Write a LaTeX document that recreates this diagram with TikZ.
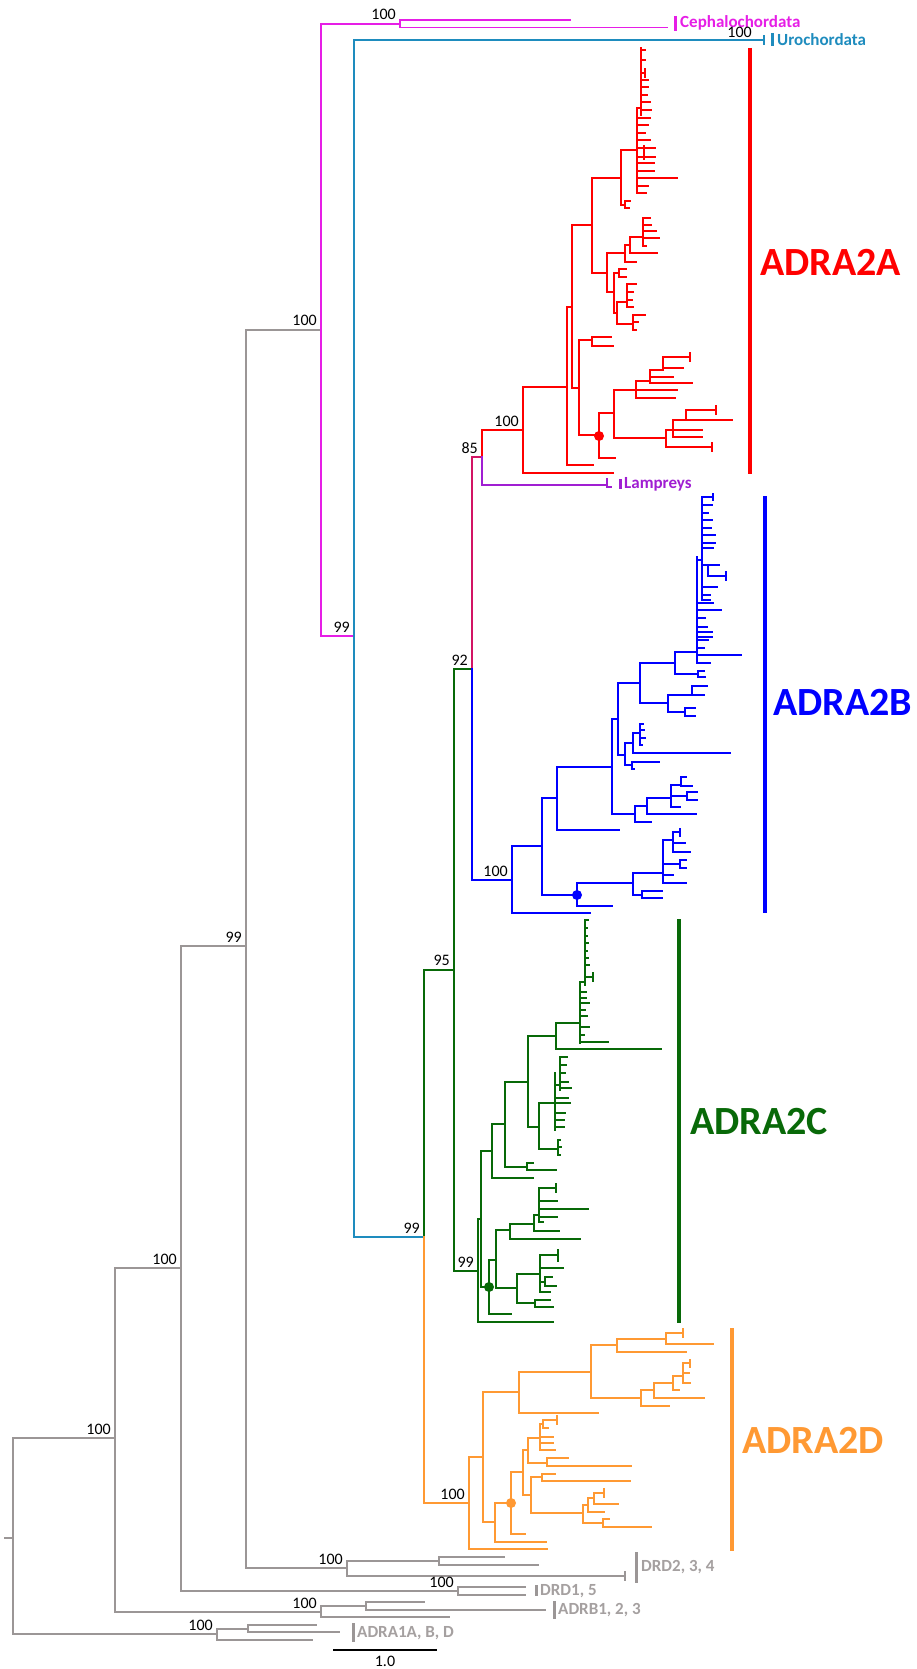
\documentclass[tikz,border=0pt]{standalone}
\usepackage{fontspec}
\setmainfont{Carlito}
\definecolor{cA}{RGB}{255,0,0}
\definecolor{cB}{RGB}{0,0,255}
\definecolor{cC}{RGB}{8,105,8}
\definecolor{cD}{RGB}{255,153,51}
\definecolor{cM}{RGB}{230,30,230}
\definecolor{cU}{RGB}{30,140,190}
\definecolor{cL}{RGB}{160,30,210}
\definecolor{cK}{RGB}{210,20,100}
\definecolor{cG}{RGB}{155,150,150}
\definecolor{cGt}{RGB}{165,160,160}
% one internal node: vertical at x=#1 from #2 to #3, branches y/xend in #4
\newcommand\clade[4]{\draw (#1,#2) -- (#1,#3) \foreach \yy/\xx in {#4}{ (#1,\yy) -- (\xx,\yy)};}
\newcommand\tickmark[3]{\draw (#1,#2) -- (#1,#3);}
\tikzset{
  br/.style={line width=1.6pt, line cap=rect},
  lab/.style={font=\fontsize{16}{18}\selectfont, inner sep=0pt, anchor=base east, text=black},
  tag/.style={font=\fontsize{17}{19}\selectfont\bfseries, inner sep=0pt, anchor=west},
  big/.style={font=\fontsize{40}{44}\selectfont\bfseries, inner sep=0pt, anchor=west},
  bar/.style={line width=3pt},
  bigbar/.style={line width=3.5pt}
}
\begin{document}
\begin{tikzpicture}[x=1pt,y=-1pt]
\fill[white] (0,0) rectangle (916,1669);
\useasboundingbox (0,0) rectangle (916,1669);

% ---------- outgroups and backbone ----------
\begin{scope}[br,cG]
\draw (5,1538) -- (13,1538);
\clade{13}{1438}{1634}{1438/115, 1634/217}
\clade{115}{1268}{1612}{1268/181, 1612/321}
\clade{181}{946}{1591}{946/246, 1591/458}
\clade{246}{330}{1568}{330/321, 1568/347}
\clade{347}{1561}{1576}{1561/439, 1576/625}
\tickmark{625}{1572}{1580}
\clade{439}{1557}{1565}{1557/504, 1565/538}
\clade{458}{1587}{1595}{1587/525, 1595/525}
\clade{321}{1606}{1617}{1606/366, 1617/449}
\clade{366}{1602}{1610}{1602/424, 1610/545}
\clade{217}{1629}{1640}{1629/248, 1640/312}
\clade{248}{1625}{1632}{1625/316, 1632/339}
\end{scope}
\begin{scope}[bar,cG]
\draw (636,1552) -- (636,1583);
\draw (536,1585) -- (536,1596);
\draw (554,1601) -- (554,1619);
\draw (353,1623) -- (353,1642);
\end{scope}
\node[tag,text=cGt] (drdA) at (641,1567) {DRD2, 3, 4};
\node[tag,text=cGt] (drdB) at (540,1591) {DRD1, 5};
\node[tag,text=cGt] (adrb) at (558,1610) {ADRB1, 2, 3};
\node[tag,text=cGt] (adra1) at (357,1633) {ADRA1A, B, D};

% scale bar
\draw[line width=1.6pt] (333,1650) -- (437,1650);
\node[font=\fontsize{16}{18}\selectfont, inner sep=0pt] (scl) at (385,1661) {1.0};

% ---------- chordate backbone ----------
\begin{scope}[br]
\draw[cM] (321,24) -- (321,636);
\draw[cM] (321,24) -- (400,24);
\begin{scope}[cM]
\clade{400}{20}{27.5}{20/570, 27.5/667}
\end{scope}
\draw[cM] (321,636) -- (354,636);
\draw[cU] (354,40) -- (354,1237);
\draw[cU] (354,40) -- (764,40);
\draw[cU] (764,36) -- (764,44);
\draw[cU] (354,1237) -- (424,1237);
\draw[cC] (424,970) -- (424,1237);
\draw[cD] (424,1237) -- (424,1503);
\draw[cC] (424,970) -- (454,970);
\draw[cC] (454,669) -- (454,1271);
\draw[cC] (454,669) -- (472,669);
\draw[cK] (472,457) -- (472,669);
\draw[cB] (472,669) -- (472,880);
\draw[cK] (472,457) -- (482,457);
\draw[cA] (482,430) -- (482,457);
\draw[cL] (482,457) -- (482,485);
\draw[cL] (482,485) -- (607,485);
\draw[cL] (607,479) -- (607,487) -- (611,487);
\draw[cA] (482,430) -- (523,430);
\draw[cB] (472,880) -- (512,880);
\draw[cC] (454,1271) -- (478,1271);
\draw[cD] (424,1503) -- (469,1503);
\end{scope}
\draw[bar,cM] (675,16) -- (675,31);
\node[tag,text=cM] (ceph) at (680,23) {Cephalochordata};
\draw[bar,cU] (772,33) -- (772,46);
\node[tag,text=cU] (uro) at (777,40) {Urochordata};
\draw[bar,cL] (620,479) -- (620,489);
\node[tag,text=cL] (lam) at (624,484) {Lampreys};

% ---------- ADRA2A ----------
\begin{scope}[br,cA]
\clade{523}{387}{473}{387/567, 473/613}
\clade{567}{307}{465}{307/572, 465/593}
\clade{572}{225}{388}{225/592, 388/579}
\clade{579}{340}{435}{340/592, 435/599}
\clade{592}{337}{346}{337/611, 346/613}
\clade{599}{413}{458}{413/614, 458/615}
\clade{614}{390}{438}{390/636, 438/666}
\clade{636}{381}{398}{381/650, 390/677, 398/675}
\clade{650}{370}{383}{370/663, 377/673, 383/692}
\clade{663}{357}{368}{357/690, 368/683}
\tickmark{690}{353}{361}
\clade{666}{430}{447}{430/673, 447/712}
\tickmark{712}{443}{451}
\clade{673}{420}{437}{420/686, 430/702, 437/702}
\clade{686}{410}{420}{410/716, 420/732}
\tickmark{716}{406}{414}
\clade{592}{178}{273}{178/621, 273/607}
\clade{621}{150}{205}{150/637, 205/625}
\clade{625}{201}{208}{201/630, 208/629}
\clade{607}{253}{292}{253/625, 292/614}
\clade{625}{245}{262}{245/630, 262/636}
\clade{630}{237}{253}{237/643, 253/657}
\clade{643}{218}{246}{218/650, 225/651, 231/656, 238/659, 246/646}
\clade{614}{273}{313}{273/619, 313/617}
\clade{619}{269}{277}{269/626, 277/626}
\clade{617}{302}{324}{302/627, 324/633}
\clade{627}{284}{307}{284/636, 292/633, 300/632, 307/633}
\clade{633}{315}{330}{315/645, 322/638, 330/636}
\clade{637}{108}{193}{108/641, 118/650, 125/648, 133/645, 140/650, 148/644, 157/644, 163/654, 171/654, 178/677, 186/648, 193/646}
\clade{641}{48}{115}{50/645, 60/645, 73/645, 80/648, 87/648, 95/647, 102/650, 110/651}
\clade{644}{146}{159}{148/655, 157/655}
\tickmark{645}{69}{77}
\fill (599,436) circle (5);
\end{scope}
\draw[bigbar,cA] (750,48) -- (750,474);
\node[big,text=cA] (lA) at (760,262) {ADRA2A};

% ---------- ADRA2B ----------
\begin{scope}[br,cB]
\clade{512}{846}{913}{846/542, 913/590}
\clade{542}{798}{895}{798/557, 895/577}
\clade{577}{883}{906}{883/633, 906/612}
\clade{633}{873}{895}{873/663, 895/642}
\clade{642}{891}{898}{891/662, 898/662}
\clade{663}{840}{883}{840/673, 864/680, 875/673, 883/686}
\clade{673}{832}{852}{832/680, 843/685, 852/690}
\tickmark{680}{829}{836}
\clade{680}{860}{868}{860/686, 868/686}
\clade{557}{767}{830}{767/612, 830/619}
\clade{612}{719}{814}{719/618, 814/635}
\clade{635}{806}{822}{806/647, 822/651}
\clade{647}{798}{814}{798/671, 814/696}
\clade{671}{785}{807}{785/681, 796/687, 807/680}
\clade{681}{777}{786}{777/686, 786/692}
\clade{687}{792}{800}{792/697, 800/697}
\clade{618}{683}{755}{683/640, 755/625}
\clade{625}{743}{765}{743/633, 765/632}
\clade{633}{733}{753}{733/640, 753/730}
\clade{640}{724}{745}{724/643, 730/644, 738/645, 745/642}
\clade{632}{762}{769}{762/659, 769/634}
\clade{640}{663}{703}{663/675, 703/668}
\clade{675}{652}{674}{652/697, 674/698}
\clade{698}{671}{677}{671/704, 677/705}
\clade{668}{695}{712}{695/692, 712/685}
\clade{692}{686}{695}{686/707, 695/704}
\clade{685}{708}{716}{708/695, 716/695}
\clade{697}{557}{663}{560/702, 603/713, 610/721, 618/705, 627/707, 632/712, 637/712, 640/708, 648/704, 655/741, 663/710}
\clade{702}{497}{600}{497/713, 505/712, 513/708, 520/712, 528/711, 535/715, 543/715, 548/713, 565/708, 587/717, 595/710, 600/710}
\clade{708}{565}{576}{565/719, 576/726}
\tickmark{713}{494}{500}
\tickmark{726}{572}{580}
\fill (577,895) circle (5);
\end{scope}
\draw[bigbar,cB] (765,496) -- (765,913);
\node[big,text=cB] (lB) at (773,702) {ADRA2B};

% ---------- ADRA2C ----------
\begin{scope}[br,cC]
\clade{478}{1219}{1322}{1219/481, 1322/553}
\clade{481}{1151}{1287}{1151/492, 1287/489}
\clade{492}{1124}{1178}{1124/505, 1178/533}
\clade{505}{1082}{1167}{1082/528, 1167/527}
\clade{527}{1163}{1170}{1163/533, 1170/556}
\clade{528}{1036}{1127}{1036/556, 1127/539}
\clade{556}{1023}{1049}{1023/580, 1049/661}
\clade{580}{982}{1043}{982/585, 992/586, 998/586, 1003/589, 1010/585, 1016/587, 1027/589, 1035/584, 1042/608}
\clade{585}{920}{985}{920/588, 928/587, 936/587, 943/588, 951/587, 958/588, 965/589, 977/593}
\tickmark{593}{973}{981}
\clade{539}{1103}{1149}{1103/555, 1149/558}
\clade{555}{1073}{1130}{1085/560, 1098/568, 1103/570, 1113/565, 1120/564, 1127/564}
\clade{560}{1057}{1090}{1057/567, 1065/566, 1073/565, 1082/568, 1088/571}
\clade{558}{1140}{1155}{1140/560, 1147/561, 1155/560}
\clade{489}{1260}{1314}{1260/496, 1314/511}
\clade{496}{1230}{1288}{1230/510, 1288/517}
\clade{510}{1224}{1239}{1224/534, 1239/580}
\clade{534}{1215}{1231}{1215/539, 1231/559}
\clade{539}{1188}{1222}{1188/556, 1201/557, 1209/588, 1217/557, 1222/543}
\tickmark{556}{1184}{1192}
\clade{517}{1274}{1303}{1274/540, 1303/535}
\clade{540}{1255}{1292}{1255/558, 1268/563, 1282/545, 1292/550}
\tickmark{558}{1250}{1261}
\clade{545}{1277}{1286}{1277/552, 1286/556}
\clade{535}{1300}{1307}{1300/550, 1307/553}
\fill (489,1287) circle (5);
\end{scope}
\draw[bigbar,cC] (679,919) -- (679,1323);
\node[big,text=cC] (lC) at (690,1122) {ADRA2C};

% ---------- ADRA2D ----------
\begin{scope}[br,cD]
\clade{469}{1457}{1549}{1457/483, 1549/547}
\clade{483}{1392}{1522}{1392/519, 1522/495}
\clade{519}{1372}{1413}{1372/591, 1413/598}
\clade{591}{1345}{1398}{1345/617, 1398/641}
\clade{617}{1339}{1352}{1339/666, 1352/686}
\clade{666}{1333}{1344}{1333/683, 1344/713}
\tickmark{683}{1329}{1337}
\clade{641}{1390}{1406}{1390/654, 1406/669}
\clade{654}{1383}{1398}{1383/673, 1398/704}
\clade{673}{1376}{1390}{1376/683, 1390/679}
\clade{683}{1363}{1383}{1363/690, 1373/689, 1383/690}
\tickmark{690}{1360}{1367}
\clade{495}{1503}{1542}{1503/511, 1542/546}
\clade{511}{1472}{1534}{1472/523, 1534/525}
\clade{523}{1450}{1495}{1450/528, 1495/531}
\clade{528}{1438}{1463}{1438/540, 1463/547}
\clade{540}{1424}{1450}{1424/543, 1437/553, 1443/553, 1450/555}
\clade{543}{1420}{1428}{1420/557, 1428/548}
\tickmark{557}{1416}{1424}
\clade{547}{1458}{1466}{1458/568, 1466/631}
\clade{531}{1477}{1513}{1477/542, 1513/583}
\clade{542}{1474}{1481}{1474/555, 1481/630}
\clade{583}{1505}{1523}{1505/588, 1523/603}
\clade{588}{1498}{1512}{1498/594, 1512/604}
\clade{594}{1493}{1504}{1493/604, 1504/618}
\tickmark{604}{1489}{1497}
\clade{603}{1519}{1527}{1519/609, 1527/651}
\fill (511,1503) circle (5);
\end{scope}
\draw[bigbar,cD] (732,1328) -- (732,1551);
\node[big,text=cD] (lD) at (742,1440) {ADRA2D};

% ---------- support values ----------
\node[lab] (s1) at (396,20) {100};
\node[lab] (s2) at (752,38) {100};
\node[lab] (s3) at (317,326) {100};
\node[lab] (s4) at (350,632) {99};
\node[lab] (s5) at (242,942) {99};
\node[lab] (s6) at (177,1264) {100};
\node[lab] (s7) at (111,1434) {100};
\node[lab] (s8) at (213,1630) {100};
\node[lab] (s9) at (317,1608) {100};
\node[lab] (s10) at (454,1587) {100};
\node[lab] (s11) at (343,1564) {100};
\node[lab] (s12) at (420,1233) {99};
\node[lab] (s13) at (450,965) {95};
\node[lab] (s14) at (468,665) {92};
\node[lab] (s15) at (478,453) {85};
\node[lab] (s16) at (519,426) {100};
\node[lab] (s17) at (508,876) {100};
\node[lab] (s18) at (474,1267) {99};
\node[lab] (s19) at (465,1499) {100};
\end{tikzpicture}
\end{document}
